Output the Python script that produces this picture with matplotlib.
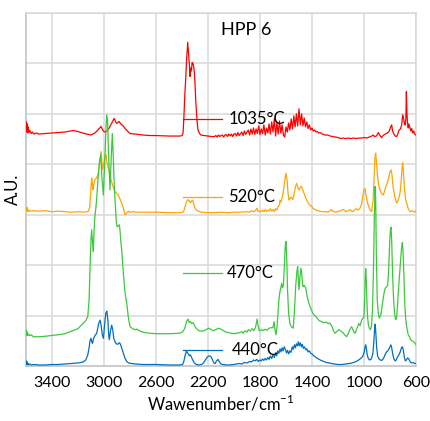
import matplotlib
matplotlib.use("Agg")
import matplotlib.pyplot as plt

plt.rcParams['font.family'] = ['Lato', 'DejaVu Sans']

# ---------------- data (wavenumber cm-1, offset absorbance A.U.) ----------------
red_wn = [3600, 3597, 3594, 3590, 3586, 3582, 3578, 3570, 3560, 3550, 3540, 3520, 3500, 3450, 3400,
          3350, 3300, 3260, 3238, 3200, 3150, 3100, 3070, 3054, 3040, 3023, 3010, 2995, 2979, 2960,
          2940, 2921, 2910, 2902, 2885, 2870, 2852, 2835, 2820, 2800, 2762, 2700, 2646, 2600, 2500,
          2415, 2400, 2392, 2385, 2378, 2372, 2364, 2356, 2350, 2346, 2342, 2338, 2333, 2328, 2322,
          2316, 2310, 2306, 2300, 2295, 2290, 2284, 2277, 2265, 2254, 2230, 2200, 2170,
          2150, 2140, 2130, 2120, 2110, 2100, 2090, 2080, 2070, 2060, 2050, 2040, 2030, 2020, 2010,
          2000, 1990, 1980, 1970, 1960, 1950, 1940, 1930, 1920, 1910, 1900, 1890, 1880, 1870, 1860,
          1850, 1840, 1830, 1820, 1810, 1800, 1790, 1780, 1770, 1760, 1750, 1740, 1730, 1720, 1710,
          1700, 1690, 1680, 1670, 1660, 1650, 1640, 1630, 1620, 1610, 1600, 1590, 1580, 1570, 1560,
          1550, 1540, 1530, 1520, 1510, 1500, 1490, 1480, 1470, 1460, 1450, 1440, 1430, 1420, 1410,
          1400, 1390, 1380, 1370, 1360, 1350, 1340, 1320, 1300, 1280, 1260, 1240, 1220, 1200, 1180,
          1160, 1140, 1120, 1100, 1080, 1060, 1040, 1020, 1000, 980, 960, 940, 929, 920, 905, 890,
          880, 864, 850, 835, 820, 805, 795, 787, 780, 770, 760, 749, 740, 730, 720, 710, 703, 698,
          690, 684, 678, 674, 670, 666, 660, 655, 648, 640, 633, 625, 618, 610, 600]
red_val = [4.70, 4.84, 4.64, 4.80, 4.62, 4.74, 4.63, 4.67, 4.61, 4.64, 4.60, 4.62, 4.60, 4.61, 4.62,
           4.63, 4.64, 4.66, 4.67, 4.65, 4.61, 4.58, 4.62, 4.66, 4.70, 4.75, 4.68, 4.64, 4.65, 4.72,
           4.82, 4.91, 4.84, 4.81, 4.85, 4.80, 4.76, 4.70, 4.66, 4.61, 4.60, 4.58, 4.57, 4.57, 4.56,
           4.56, 4.57, 4.62, 4.95, 5.40, 5.67, 6.10, 6.42, 6.20, 6.07, 5.95, 5.74, 5.91, 5.85, 6.02,
           6.00, 5.94, 5.85, 5.61, 5.30, 5.08, 4.85, 4.68, 4.61, 4.58, 4.57, 4.56, 4.55,
           4.55, 4.57, 4.54, 4.58, 4.55, 4.57, 4.58, 4.54, 4.58, 4.59, 4.55, 4.60, 4.56, 4.60, 4.55,
           4.60, 4.61, 4.56, 4.63, 4.57, 4.61, 4.64, 4.57, 4.66, 4.59, 4.64, 4.68, 4.58, 4.70, 4.60,
           4.72, 4.59, 4.70, 4.61, 4.76, 4.59, 4.70, 4.61, 4.78, 4.58, 4.72, 4.62, 4.80, 4.60, 4.84,
           4.64, 4.90, 4.56, 4.82, 4.60, 4.86, 4.62, 4.78, 4.58, 4.54, 4.74, 4.64, 4.82, 4.68, 4.90,
           4.70, 4.96, 4.74, 5.00, 4.76, 5.10, 4.78, 5.00, 4.76, 4.92, 4.74, 4.84, 4.71, 4.78, 4.68,
           4.72, 4.66, 4.68, 4.64, 4.65, 4.62, 4.63, 4.60, 4.58, 4.58, 4.56, 4.55, 4.54, 4.53, 4.51,
           4.52, 4.51, 4.52, 4.51, 4.52, 4.51, 4.52, 4.52, 4.53, 4.52, 4.54, 4.56, 4.58, 4.55, 4.56, 4.63,
           4.58, 4.53, 4.58, 4.60, 4.62, 4.66, 4.74, 4.78, 4.66, 4.60, 4.56, 4.55, 4.60, 4.68, 4.70, 4.78, 4.98, 4.94,
           4.82, 4.78, 4.90, 5.44, 5.05, 4.84, 4.72, 4.80, 4.74, 4.66, 4.71, 4.62, 4.66, 4.60, 4.58]

orange_wn = [3600, 3595, 3590, 3585, 3580, 3570, 3550, 3500, 3450, 3400, 3350, 3300, 3250, 3200, 3150,
             3120, 3110, 3102, 3095, 3090, 3086, 3080, 3070, 3060, 3054, 3045, 3035, 3028, 3022, 3016,
             3010, 3004, 2998, 2990, 2985, 2978, 2970, 2962, 2954, 2945, 2938, 2931, 2920, 2905, 2892,
             2878, 2864, 2850, 2838, 2830, 2820, 2810, 2800, 2780, 2750, 2700, 2600, 2500, 2420, 2395,
             2385, 2370, 2360, 2352, 2342, 2333, 2325, 2318, 2310, 2300, 2290, 2275, 2250, 2200, 2150,
             2100, 2050, 2000, 1950, 1900, 1880, 1864, 1850, 1840, 1830, 1823, 1815, 1800, 1790, 1780,
             1770, 1760, 1750, 1740, 1730, 1720, 1710, 1700, 1690, 1680, 1670, 1660, 1650, 1646, 1638,
             1628, 1618, 1608, 1600, 1592, 1585, 1577, 1570, 1560, 1548, 1538, 1528, 1518, 1510, 1505,
             1498, 1490, 1482, 1475, 1465, 1455, 1441, 1430, 1420, 1402, 1390, 1375, 1360, 1340, 1320,
             1300, 1280, 1260, 1250, 1240, 1220, 1200, 1180, 1165, 1150, 1140, 1120, 1105, 1090, 1075,
             1060, 1045, 1031, 1020, 1010, 1000, 992, 985, 975, 967, 955, 941, 930, 922, 915,
             910, 904, 895, 885, 877, 865, 852, 840, 830, 821, 812, 800, 792, 785, 775,
             762, 749, 735, 723, 713, 707, 703, 698, 690, 680, 672, 660, 646, 630, 615, 600]
orange_val = [3.12, 3.08, 3.14, 3.06, 3.09, 3.07, 3.08, 3.07, 3.08, 3.06, 3.07, 3.06, 3.05, 3.06, 3.05,
              3.07, 3.15, 3.45, 3.73, 3.62, 3.49, 3.58, 3.70, 3.72, 3.75, 3.80, 4.00, 4.15, 4.25, 4.05,
              3.90, 3.99, 4.05, 4.15, 4.19, 4.05, 3.95, 3.88, 3.79, 3.68, 3.62, 3.56, 3.48, 3.43, 3.39,
              3.32, 3.23, 3.12, 3.00, 3.02, 3.05, 3.07, 3.05, 3.06, 3.05, 3.05, 3.05, 3.04, 3.04, 3.05,
              3.08, 3.22, 3.28, 3.30, 3.26, 3.24, 3.27, 3.29, 3.22, 3.13, 3.09, 3.07, 3.05, 3.04, 3.04,
              3.05, 3.04, 3.05, 3.05, 3.06, 3.05, 3.08, 3.06, 3.07, 3.10, 3.13, 3.06, 3.08, 3.06, 3.09,
              3.06, 3.10, 3.06, 3.09, 3.07, 3.12, 3.07, 3.10, 3.06, 3.12, 3.09, 3.16, 3.20, 3.29, 3.25,
              3.35, 3.50, 3.70, 3.82, 3.70, 3.45, 3.29, 3.32, 3.35, 3.30, 3.40, 3.55, 3.62, 3.55, 3.52,
              3.49, 3.55, 3.56, 3.52, 3.45, 3.38, 3.29, 3.24, 3.20, 3.16, 3.12, 3.10, 3.08, 3.07, 3.06,
              3.06, 3.05, 3.08, 3.10, 3.07, 3.05, 3.06, 3.08, 3.10, 3.09, 3.06, 3.08, 3.10, 3.06, 3.08,
              3.12, 3.09, 3.13, 3.20, 3.35, 3.50, 3.52, 3.40, 3.25, 3.19, 3.10, 3.06, 3.30, 3.75, 4.15,
              4.22, 4.05, 3.75, 3.55, 3.49, 3.42, 3.39, 3.48, 3.58, 3.62, 3.72, 3.85, 3.89, 3.80, 3.52,
              3.35, 3.23, 3.30, 3.43, 3.70, 3.95, 4.03, 3.90, 3.55, 3.30, 3.24, 3.12, 3.06, 3.08, 3.05, 3.08]

green_wn = [3600, 3597, 3593, 3590, 3585, 3580, 3570, 3560, 3544, 3500, 3450, 3390, 3350, 3300, 3262,
            3200, 3159, 3140, 3125, 3115, 3108, 3100, 3095, 3088, 3082, 3076, 3069, 3062, 3056, 3045,
            3035, 3025, 3015, 3005, 2995, 2985, 2979, 2972, 2965, 2954, 2945, 2936, 2928, 2920, 2915,
            2905, 2898, 2890, 2882, 2877, 2870, 2864, 2850, 2838, 2825, 2812, 2800, 2780, 2760, 2745,
            2736, 2720, 2700, 2650, 2600, 2500, 2420, 2395, 2380, 2365, 2354, 2345, 2335, 2325, 2315,
            2300, 2285, 2270, 2250, 2230, 2210, 2195, 2180, 2160, 2140, 2120, 2100, 2080, 2060, 2040,
            2020, 2000, 1980, 1960, 1940, 1930, 1915, 1900, 1890, 1875, 1860, 1848, 1835, 1822, 1815,
            1805, 1790, 1775, 1760, 1745, 1730, 1715, 1700, 1692, 1684, 1677, 1668, 1658, 1650, 1646,
            1640, 1633, 1626, 1620, 1612, 1605, 1600, 1595, 1588, 1580, 1570, 1560, 1550, 1544, 1535,
            1525, 1515, 1510, 1505, 1500, 1493, 1485, 1478, 1472, 1467, 1460, 1449, 1440, 1430, 1415,
            1400, 1390, 1377, 1360, 1345, 1326, 1310, 1290, 1275, 1262, 1245, 1235, 1223, 1210, 1195,
            1182, 1172, 1160, 1150, 1140, 1133, 1120, 1105, 1095, 1085, 1075, 1069, 1055, 1040, 1030,
            1018, 1008, 1000, 995, 990, 987, 983, 978, 972, 966, 958, 950, 942, 935, 928,
            920, 915, 910, 905, 898, 890, 882, 872, 862, 852, 842, 835, 826, 818, 810,
            803, 797, 792, 787, 780, 772, 765, 757, 750, 742, 735, 727, 718, 711, 705,
            700, 693, 686, 678, 670, 660, 650, 640, 630, 620, 610, 600]
green_val = [0.64, 0.71, 0.60, 0.67, 0.61, 0.63, 0.60, 0.62, 0.58, 0.58, 0.59, 0.61, 0.62, 0.64, 0.68,
             0.74, 0.85, 0.90, 0.98, 1.30, 1.90, 2.50, 2.70, 2.45, 2.27, 2.70, 3.00, 3.15, 3.33, 3.75,
             4.05, 4.19, 3.70, 3.39, 4.00, 4.70, 4.98, 4.85, 4.20, 3.49, 4.10, 4.61, 4.10, 3.50, 3.29,
             2.85, 2.76, 2.78, 2.80, 2.70, 2.45, 2.30, 1.80, 1.45, 1.24, 0.95, 0.78, 0.74, 0.72, 0.73,
             0.71, 0.69, 0.67, 0.65, 0.64, 0.64, 0.65, 0.68, 0.74, 0.88, 0.93, 0.86, 0.88, 0.84, 0.86,
             0.78, 0.73, 0.70, 0.69, 0.70, 0.73, 0.75, 0.73, 0.70, 0.72, 0.75, 0.73, 0.70, 0.67, 0.66,
             0.65, 0.64, 0.65, 0.66, 0.68, 0.65, 0.70, 0.67, 0.72, 0.69, 0.74, 0.70, 0.76, 0.93, 0.80,
             0.70, 0.72, 0.70, 0.73, 0.71, 0.75, 0.76, 0.76, 0.88, 0.70, 0.62, 0.80, 1.20, 1.42, 1.48,
             1.55, 1.64, 1.55, 1.60, 2.00, 2.40, 2.47, 2.20, 1.50, 1.05, 0.85, 0.78, 0.76, 0.75, 1.10,
             1.60, 1.90, 1.97, 1.75, 1.51, 1.75, 1.94, 1.80, 1.60, 1.57, 1.60, 1.55, 1.42, 1.30, 1.18,
             1.08, 1.03, 1.00, 0.95, 0.90, 0.88, 0.86, 0.87, 0.84, 0.85, 0.78, 0.70, 0.65, 0.68, 0.72,
             0.70, 0.68, 0.66, 0.62, 0.60, 0.58, 0.65, 0.74, 0.78, 0.72, 0.66, 0.65, 0.74, 0.84, 0.80,
             0.91, 0.95, 0.98, 1.30, 1.80, 1.93, 1.75, 1.30, 0.95, 0.82, 0.74, 0.72, 0.80, 1.10, 1.80,
             3.00, 3.56, 3.30, 2.20, 1.30, 1.05, 0.95, 1.00, 1.15, 1.35, 1.50, 1.55, 1.57, 1.60, 1.90,
             2.40, 2.70, 2.75, 2.50, 1.80, 1.30, 1.05, 0.92, 0.95, 1.20, 1.50, 1.80, 2.10, 2.35, 2.45,
             2.30, 1.80, 1.20, 0.90, 0.75, 0.62, 0.58, 0.52, 0.50, 0.48, 0.46, 0.42]

blue_wn = [3600, 3597, 3594, 3590, 3586, 3582, 3578, 3570, 3560, 3540, 3500, 3450, 3400, 3350, 3300,
           3250, 3200, 3160, 3140, 3125, 3115, 3108, 3100, 3094, 3088, 3080, 3070, 3062, 3056, 3048,
           3040, 3030, 3022, 3012, 3004, 2996, 2986, 2978, 2970, 2964, 2959, 2950, 2941, 2933, 2925,
           2915, 2905, 2895, 2888, 2880, 2872, 2862, 2850, 2838, 2825, 2810, 2790, 2760, 2700, 2600,
           2500, 2420, 2395, 2385, 2375, 2365, 2358, 2350, 2343, 2336, 2328, 2318, 2305, 2290, 2270,
           2250, 2235, 2220, 2205, 2190, 2178, 2165, 2155, 2145, 2135, 2122, 2112, 2100, 2085, 2060,
           2040, 2000, 1980, 1960, 1940, 1920, 1900, 1880, 1865, 1850, 1838, 1825, 1812, 1800, 1790,
           1780, 1770, 1760, 1750, 1740, 1730, 1720, 1710, 1700, 1690, 1680, 1672, 1664, 1655, 1646,
           1638, 1630, 1622, 1613, 1605, 1596, 1588, 1580, 1570, 1562, 1552, 1545, 1535, 1528, 1520,
           1512, 1505, 1498, 1490, 1482, 1475, 1466, 1458, 1448, 1440, 1430, 1420, 1410, 1400, 1385,
           1370, 1350, 1330, 1310, 1290, 1270, 1250, 1230, 1200, 1170, 1140, 1110, 1080, 1060, 1040,
           1020, 1008, 998, 992, 987, 982, 975, 967, 958, 948, 940, 932, 925, 918, 914,
           909, 902, 895, 885, 875, 865, 855, 845, 835, 826, 817, 808, 800, 794, 788,
           780, 770, 760, 752, 742, 732, 724, 716, 710, 704, 698, 690, 682, 674, 665,
           655, 645, 635, 622, 610, 600]
blue_val = [0.05, 0.10, 0.03, 0.08, 0.02, 0.05, 0.03, 0.04, 0.02, 0.03, 0.02, 0.02, 0.03, 0.03, 0.04,
            0.05, 0.06, 0.08, 0.12, 0.22, 0.35, 0.50, 0.55, 0.48, 0.45, 0.55, 0.60, 0.63, 0.65, 0.75,
            0.85, 0.91, 0.80, 0.60, 0.55, 0.80, 1.05, 1.09, 0.90, 0.62, 0.52, 0.70, 0.81, 0.72, 0.55,
            0.48, 0.44, 0.43, 0.45, 0.46, 0.42, 0.34, 0.24, 0.15, 0.09, 0.06, 0.05, 0.04, 0.03, 0.03,
            0.02, 0.02, 0.03, 0.10, 0.22, 0.30, 0.26, 0.24, 0.20, 0.22, 0.18, 0.12, 0.06, 0.03, 0.02,
            0.03, 0.06, 0.12, 0.18, 0.20, 0.19, 0.12, 0.06, 0.05, 0.10, 0.13, 0.08, 0.04, 0.03, 0.02,
            0.02, 0.03, 0.04, 0.05, 0.04, 0.07, 0.06, 0.09, 0.08, 0.12, 0.10, 0.13, 0.09, 0.12, 0.10,
            0.14, 0.11, 0.15, 0.12, 0.17, 0.13, 0.20, 0.15, 0.22, 0.17, 0.26, 0.20, 0.30, 0.25, 0.34,
            0.28, 0.36, 0.30, 0.38, 0.33, 0.26, 0.31, 0.24, 0.30, 0.27, 0.38, 0.33, 0.42, 0.36, 0.44,
            0.40, 0.48, 0.40, 0.46, 0.38, 0.43, 0.35, 0.38, 0.32, 0.34, 0.28, 0.30, 0.25, 0.24, 0.20,
            0.17, 0.14, 0.11, 0.09, 0.07, 0.06, 0.05, 0.04, 0.03, 0.03, 0.04, 0.05, 0.07, 0.09, 0.12,
            0.16, 0.20, 0.28, 0.38, 0.42, 0.35, 0.22, 0.15, 0.12, 0.13, 0.17, 0.25, 0.45, 0.75, 0.83,
            0.65, 0.35, 0.20, 0.14, 0.12, 0.11, 0.13, 0.18, 0.24, 0.28, 0.30, 0.34, 0.38, 0.42, 0.38,
            0.25, 0.14, 0.10, 0.12, 0.18, 0.22, 0.26, 0.33, 0.37, 0.38, 0.32, 0.18, 0.10, 0.12, 0.16,
            0.14, 0.08, 0.06, 0.07, 0.05, 0.05]

series_names = ["1035°C", "520°C", "470°C", "440°C"]
series_colors = ["#ff0000", "#ffa500", "#3cc83c", "#0070c0"]
x_ticks = [3400, 3000, 2600, 2200, 1800, 1400, 1000, 600]
title_text = "HPP 6"
x_label = "Wawenumber/cm$^{\\mathregular{-1}}$"
y_label = "A.U."

# ---------------- figure ----------------
fig = plt.figure(figsize=(4.30, 4.21), dpi=100)
ax = fig.add_axes([26 / 430, 1 - 366 / 421, 390 / 430, 353 / 421])

grid_c = "#d9d9d9"
ax.set_xlim(3600, 600)
ax.set_ylim(0, 7)
ax.set_xticks(x_ticks)
ax.set_yticks(range(1, 8))
ax.set_yticklabels([])
ax.grid(True, color=grid_c, linewidth=1.1)
ax.set_axisbelow(True)
ax.tick_params(length=0, labelsize=11.5, pad=7, colors="#000000")
for s in ("top", "right"):
    ax.spines[s].set_color(grid_c)
    ax.spines[s].set_linewidth(1.1)
for s in ("left", "bottom"):
    ax.spines[s].set_color("#bfbfbf")
    ax.spines[s].set_linewidth(1.1)

lw = 0.9
ax.plot(red_wn, red_val, color=series_colors[0], lw=lw, zorder=3)
ax.plot(orange_wn, orange_val, color=series_colors[1], lw=lw, zorder=3)
ax.plot(blue_wn, blue_val, color=series_colors[3], lw=lw, zorder=3)
ax.plot(green_wn, green_val, color=series_colors[2], lw=lw, zorder=4)

# series labels with short leader lines
label_y = [4.89, 3.36, 1.84, 0.32]
label_tx = [2045, 2045, 2055, 2020]
for name, col, yv, tx in zip(series_names, series_colors, label_y, label_tx):
    ax.plot([2392, 2092], [yv, yv], color=col, lw=lw, zorder=5)
    ax.text(tx, yv, name, ha="left", va="center", fontsize=12, color="#000000", zorder=6)

ax.text(2100, 6.67, title_text, ha="left", va="center", fontsize=13, color="#000000")

ax.set_xlabel(x_label, fontsize=12, labelpad=3)
ax.set_ylabel(y_label, fontsize=12)
ax.yaxis.set_label_coords(-0.012, 0.5)

fig.savefig("out.png", dpi=100)
